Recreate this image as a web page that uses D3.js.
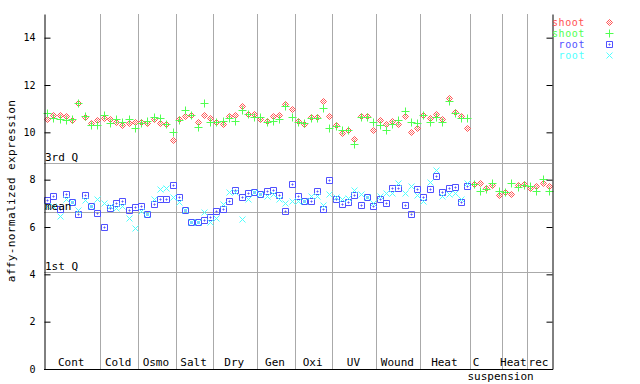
<!DOCTYPE html>
<html>
<head>
<meta charset="utf-8">
<script src="https://cdn.jsdelivr.net/npm/d3@7"></script>
<style>
  body { margin: 0; background: #fff; }
  svg { display: block; }
  text { font-family: "DejaVu Sans Mono", monospace; }
</style>
</head>
<body>
<script>
//chart data
var groups = ["Cont", "Cold", "Osmo", "Salt", "Dry", "Gen", "Oxi", "UV", "Wound", "Heat", "C suspension", "Heat", "rec"];
var groupSizes = [9, 6, 6, 6, 7, 6, 6, 7, 7, 8, 5, 4, 4];

var shootRed = [
    10.55, 10.73, 10.73, 10.69, 10.52, 11.22, 10.66, 10.38, 10.52, 10.59,
    10.55, 10.45, 10.31, 10.38, 10.45, 10.45, 10.38, 10.55, 10.38, 10.35,
    9.68, 10.55, 10.69, 10.73, 10.45, 10.73, 10.59, 10.45, 10.34, 10.69,
    10.73, 11.12, 10.77, 10.77, 10.56, 10.48, 10.69, 10.73, 11.19, 10.97,
    10.48, 10.34, 10.66, 10.63, 11.32, 10.69, 10.31, 9.96, 10.10, 9.72,
    10.69, 10.69, 10.10, 10.52, 10.35, 10.48, 10.35, 10.70, 10.00, 10.19,
    10.73, 10.59, 10.77, 10.55, 11.46, 10.84, 10.69, 10.17, 7.82, 7.86,
    7.65, 7.79, 7.37, 7.48, 7.40, 7.76, 7.82, 7.65, 7.72, 7.86,
    7.72
];
var shootGreen = [
    10.80, 10.59, 10.55, 10.52, 10.55, 11.25, 10.69, 10.31, 10.31, 10.73,
    10.38, 10.55, 10.45, 10.55, 10.17, 10.38, 10.49, 10.66, 10.59, 10.35,
    10.03, 10.52, 10.94, 10.73, 10.21, 11.22, 10.45, 10.45, 10.48, 10.59,
    10.48, 10.94, 10.77, 10.63, 10.66, 10.42, 10.49, 10.55, 11.11, 10.63,
    10.45, 10.38, 10.59, 10.59, 11.01, 10.17, 10.27, 10.10, 10.10, 9.51,
    10.66, 10.66, 10.42, 10.31, 10.10, 10.35, 10.52, 10.90, 10.42, 10.38,
    10.73, 10.45, 10.66, 10.45, 11.33, 10.80, 10.59, 10.59, 7.82, 7.54,
    7.62, 7.86, 7.54, 7.48, 7.86, 7.69, 7.79, 7.72, 7.51, 8.04,
    7.54
];
var rootBlue = [
    7.14, 7.31, 6.75, 7.40, 7.05, 6.55, 7.35, 6.89, 6.58, 5.99,
    6.79, 7.00, 7.10, 6.72, 6.84, 6.89, 6.54, 6.97, 7.19, 7.19,
    7.78, 7.28, 6.72, 6.23, 6.23, 6.30, 6.41, 6.68, 6.75, 7.10,
    7.57, 7.26, 7.43, 7.47, 7.38, 7.52, 7.57, 7.35, 6.69, 7.81,
    7.31, 7.10, 7.11, 7.52, 6.75, 7.99, 7.19, 6.96, 7.07, 7.35,
    6.93, 7.26, 6.89, 7.17, 7.00, 7.64, 7.64, 6.93, 6.54, 7.59,
    7.26, 7.59, 8.16, 7.49, 7.64, 7.68, 7.05, 7.73
];
var rootCyan = [
    6.90, 6.90, 6.47, 7.19, 7.05, 6.72, 7.14, 6.89, 7.19, 7.00,
    6.89, 6.82, 6.89, 6.37, 5.95, 6.68, 6.54, 7.19, 7.61, 7.64,
    7.28, 7.07, 6.72, 6.23, 6.23, 6.65, 6.23, 6.37, 6.96, 7.49,
    7.49, 6.33, 7.19, 7.47, 7.38, 7.31, 7.38, 7.17, 7.00, 7.10,
    7.10, 7.10, 7.33, 7.31, 6.93, 7.38, 7.28, 7.17, 7.22, 7.57,
    7.40, 7.26, 7.00, 7.33, 7.43, 7.45, 7.85, 7.43, 7.73, 7.35,
    7.11, 7.89, 8.41, 7.31, 7.38, 7.45, 7.17, 7.85
];

var refNames = ["3rd Q", "mean", "1st Q"];
var refValues = [8.69, 6.62, 4.09];
var yTicks = [0, 2, 4, 6, 8, 10, 12, 14];

var seriesNames = ["shoot", "shoot", "root", "root"];
var seriesColors = ["#ff5050", "#50ff50", "#5050ff", "#50ffff"];
var seriesShapes = ["diamond", "plus", "square", "cross"];

(function (){

    //frame dimensions
    var width = 640,
        height = 384,
        plotLeft = 44,
        plotRight = 552,
        plotTop = 14,
        plotBottom = 369;

    var svg = d3.select("body")
        .append("svg")
        .attr("width", width)
        .attr("height", height);

    var nSamples = d3.sum(groupSizes);

    var x = d3.scaleLinear()
        .domain([0, nSamples])
        .range([plotLeft, plotRight]);

    var y = d3.scaleLinear()
        .domain([0, 15])
        .range([plotBottom, plotTop]);

    //group boundaries from the cumulative sizes
    var bounds = [0];
    groupSizes.forEach(function(n, i){ bounds.push(bounds[i] + n); });

    //vertical separators
    svg.selectAll(".sep")
        .data(bounds.slice(1, -1))
        .enter()
        .append("line")
        .attr("x1", function(d){ return Math.round(x(d)) + 0.5; })
        .attr("x2", function(d){ return Math.round(x(d)) + 0.5; })
        .attr("y1", plotTop)
        .attr("y2", plotBottom)
        .attr("stroke", "#aaaaaa");

    //reference lines
    svg.selectAll(".ref")
        .data(refValues)
        .enter()
        .append("line")
        .attr("x1", plotLeft)
        .attr("x2", plotRight)
        .attr("y1", function(d){ return Math.round(y(d)) + 0.5; })
        .attr("y2", function(d){ return Math.round(y(d)) + 0.5; })
        .attr("stroke", "#aaaaaa");

    //marker shapes
    function shapePath(kind){
        if (kind == "diamond") return "M0,-3L3,0L0,3L-3,0Z M0,-1L1,0L0,1L-1,0Z";
        if (kind == "plus") return "M-4,0H4M0,-4V4";
        if (kind == "square") return "M-3,-3H3V3H-3Z M-0.5,-0.5H0.5V0.5H-0.5Z";
        return "M-3,-3L3,3M-3,3L3,-3";
    }

    var series = [shootRed, shootGreen, rootBlue, rootCyan];
    series.forEach(function(vals, s){
        svg.append("g")
            .selectAll("path")
            .data(vals)
            .enter()
            .append("path")
            .attr("transform", function(d, i){
                return "translate(" + (Math.round(x(i + 0.5)) + 0.5) + "," + (Math.round(y(d)) + 0.5) + ")";
            })
            .attr("d", shapePath(seriesShapes[s]))
            .attr("fill", "none")
            .attr("stroke", seriesColors[s])
            .attr("stroke-width", 1);
    });

    //reference labels
    svg.selectAll(".refLabel")
        .data(refValues)
        .enter()
        .append("text")
        .attr("x", plotLeft + 1)
        .attr("y", function(d){ return y(d) - 2; })
        .attr("font-size", 11)
        .attr("fill", "#000")
        .text(function(d, i){ return refNames[i]; });

    //axes
    var yAxis = d3.axisLeft(y)
        .tickValues(yTicks)
        .tickSize(-6)
        .tickSizeOuter(0)
        .tickPadding(9);

    var axis = svg.append("g")
        .attr("transform", "translate(" + (plotLeft + 0.5) + ",0)")
        .call(yAxis);
    axis.selectAll("text").attr("font-size", 10).attr("font-family", "DejaVu Sans Mono, monospace");
    axis.selectAll("line,path").attr("stroke", "#000");

    var yAxisR = d3.axisRight(y)
        .tickValues(yTicks)
        .tickSize(-6)
        .tickSizeOuter(0)
        .tickFormat("");

    svg.append("g")
        .attr("transform", "translate(" + (plotRight + 0.5) + ",0)")
        .call(yAxisR)
        .selectAll("line,path").attr("stroke", "#000");

    svg.append("line")
        .attr("x1", plotLeft)
        .attr("x2", plotRight + 1)
        .attr("y1", plotBottom + 0.5)
        .attr("y2", plotBottom + 0.5)
        .attr("stroke", "#000");

    //group labels
    svg.selectAll(".groupLabel")
        .data(groups)
        .enter()
        .append("text")
        .attr("x", function(d, i){
            var mid = (x(bounds[i]) + x(bounds[i + 1])) / 2;
            return d.indexOf(" ") > 0 ? mid - 10 : mid - 1;
        })
        .attr("y", 366)
        .attr("text-anchor", "middle")
        .attr("font-size", 11)
        .text(function(d){ return d.split(" ")[0]; });

    svg.selectAll(".groupLabel2")
        .data(groups.map(function(d, i){ return {name: d, i: i}; })
            .filter(function(d){ return d.name.indexOf(" ") > 0; }))
        .enter()
        .append("text")
        .attr("x", function(d){ return x(bounds[d.i]) - 3; })
        .attr("y", 380)
        .attr("font-size", 11)
        .text(function(d){ return d.name.split(" ").slice(1).join(" "); });

    //y axis title
    svg.append("text")
        .attr("transform", "translate(15,191) rotate(-90)")
        .attr("text-anchor", "middle")
        .attr("font-size", 11)
        .attr("letter-spacing", 0.4)
        .text("affy-normalized expression");

    //legend
    var legend = svg.selectAll(".legend")
        .data(seriesNames)
        .enter()
        .append("g")
        .attr("transform", function(d, i){ return "translate(0," + (26 + i * 11) + ")"; });

    legend.append("text")
        .attr("x", 585)
        .attr("text-anchor", "end")
        .attr("font-size", 10)
        .attr("letter-spacing", 0.6)
        .attr("fill", function(d, i){ return seriesColors[i]; })
        .text(function(d){ return d; });

    legend.append("path")
        .attr("transform", "translate(609.5,-3.5)")
        .attr("d", function(d, i){ return shapePath(seriesShapes[i]); })
        .attr("fill", "none")
        .attr("stroke", function(d, i){ return seriesColors[i]; });

})();
</script>
</body>
</html>
